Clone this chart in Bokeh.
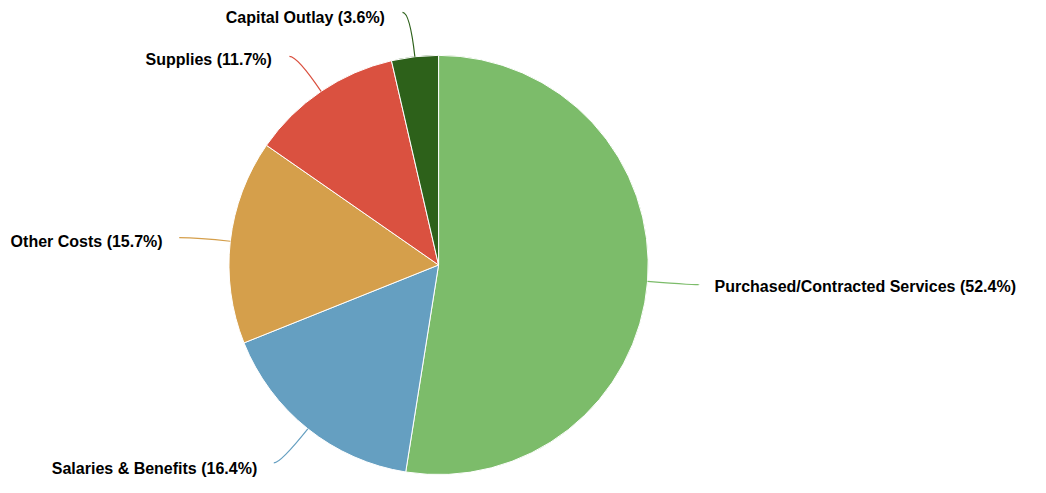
import math
from bokeh.plotting import figure
from bokeh.models import Range1d
from bokeh.core.properties import value
from bokeh.embed import file_html
from bokeh.resources import INLINE

# ---- data ----
categories = ["Purchased/Contracted Services", "Salaries & Benefits", "Other Costs",
              "Supplies", "Capital Outlay"]
shares = [52.4, 16.4, 15.7, 11.7, 3.6]
colors = ["#7CBC6A", "#659FC1", "#D59F4B", "#DA5140", "#2D611A"]

# ---- layout ----
W, H = 1030, 477
S = 0.975                  # overall scale so the layout fits the canvas
OX, OY = 12, 10            # fixed point of the scaling
CX, CY = 449, 271          # pie centre (design px)
R = 215                    # pie radius (design px)
FONT = 16.4                # label font size (design px)
# label anchor: (line end x, line end y, text x, text y, align)  in design px
label_layout = [
    (716, 291, 732, 293.5, "left"),
    (280, 474, 263, 479.5, "right"),
    (183, 243, 166, 246.5, "right"),
    (296, 57, 278, 60.5, "right"),
    (412, 12, 394, 17, "right"),
]

def tx_(px):
    return OX + S * (px - OX)

def ty_(py):
    return H - (OY + S * (py - OY))

p = figure(width=W, height=H, output_backend="svg", toolbar_location=None,
           x_range=Range1d(0, W), y_range=Range1d(0, H), min_border=0)
p.axis.visible = False
p.grid.visible = False
p.outline_line_color = None
p.background_fill_color = "white"

total = sum(shares)
cum = 0.0
starts, ends = [], []
for s in shares:
    a0 = math.pi / 2 - 2 * math.pi * cum / total
    cum += s
    a1 = math.pi / 2 - 2 * math.pi * cum / total
    starts.append(a0)
    ends.append(a1)

cx0, cy0, r0 = tx_(CX), ty_(CY), R * S
p.wedge(x=[cx0] * len(shares), y=[cy0] * len(shares), radius=r0,
        start_angle=starts, end_angle=ends, direction="clock",
        fill_color=colors, line_color="white", line_width=1)

for i, (name, s) in enumerate(zip(categories, shares)):
    mid = (starts[i] + ends[i]) / 2
    dx, dy = math.cos(mid), math.sin(mid)
    ex, ey = cx0 + r0 * dx, cy0 + r0 * dy
    lx_px, ly_px, tx_px, ty_px, align = label_layout[i]
    lx, ly = tx_(lx_px), ty_(ly_px)
    # control point: where the radial line reaches the label's height
    if abs(dy) > 0.1:
        t = max((ly - ey) / dy, 0)
    else:
        t = (lx - ex) / dx
    cxp, cyp = ex + t * dx, ey + t * dy
    p.quadratic(x0=[ex], y0=[ey], x1=[lx], y1=[ly], cx=[cxp], cy=[cyp],
                line_color=colors[i], line_width=1.2)
    p.text(x=[tx_(tx_px)], y=[ty_(ty_px)], text=[f"{name} ({s}%)"],
           text_font=value("Liberation Sans"), text_font_style="bold",
           text_font_size=f"{FONT * S:.1f}px", text_color="#000000",
           text_align=align, text_baseline="middle")

open("out.html", "w").write(file_html(p, INLINE))
